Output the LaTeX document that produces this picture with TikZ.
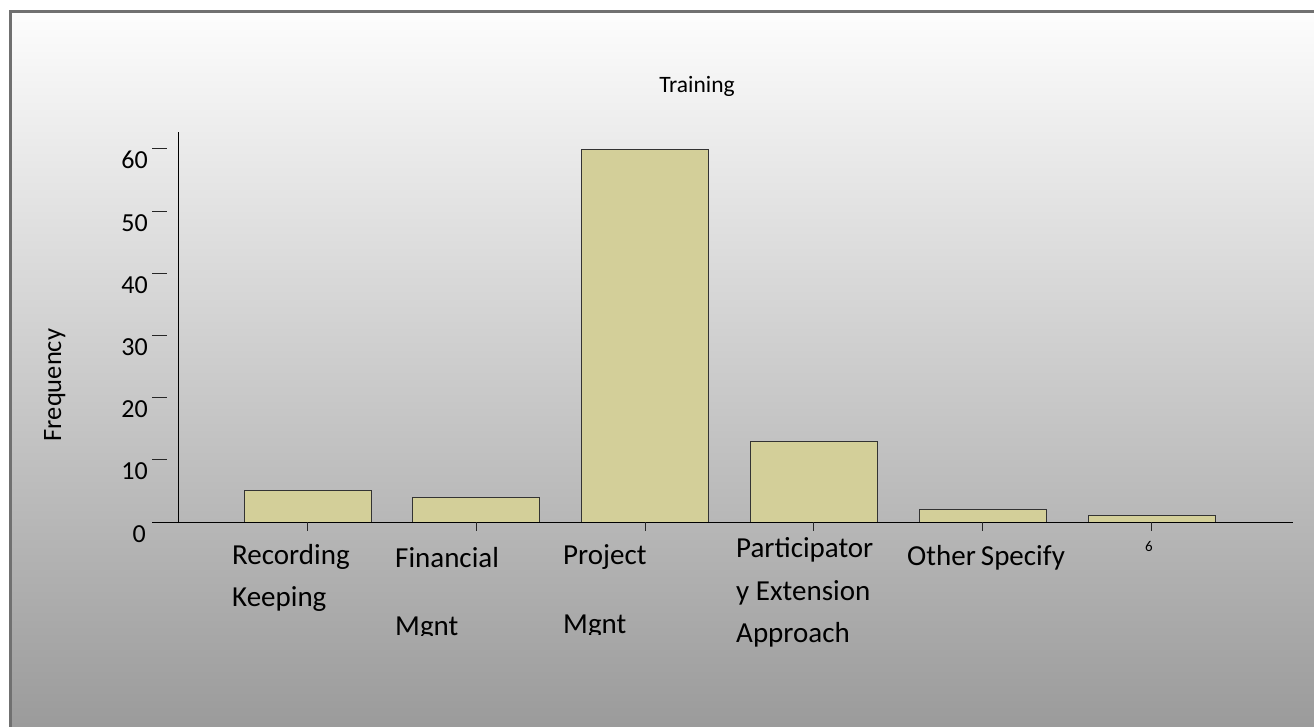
\documentclass[tikz,border=0pt]{standalone}
\usepackage{fontspec}
\setmainfont{Carlito}
\definecolor{bgtop}{HTML}{FDFDFD}
\definecolor{bgbot}{HTML}{9B9B9B}
\definecolor{framegray}{HTML}{707070}
\definecolor{barfill}{HTML}{D3CF99}
\begin{document}
\begin{tikzpicture}[x=1pt,y=-1pt,
  bar/.style={draw=black!80, fill=barfill, line width=0.9pt},
  axisline/.style={draw=black, line width=1pt},
  tickmark/.style={draw=black!85, line width=1pt},
  ticklab/.style={inner sep=0pt, anchor=base east, font=\fontsize{26}{30}\selectfont},
  catlab/.style={inner sep=0pt, anchor=base west, font=\fontsize{29}{34}\selectfont}]
\useasboundingbox (0,0) rectangle (1314,726);
\fill[white] (0,0) rectangle (1314,726);
\shade[top color=bgtop, bottom color=bgbot] (10,11) rectangle (1314,726);
\draw[framegray, line width=3pt] (10,740) -- (10,11) -- (1330,11);

% title
\node[inner sep=0pt, anchor=base, font=\fontsize{23.5}{28}\selectfont] (title) at (697,92) {Training};

% y axis label
\node[inner sep=0pt, anchor=base, rotate=90, font=\fontsize{26.5}{30}\selectfont] (ylab) at (61,385) {Frequency};

% bars
\foreach \c/\v in {307.5/5, 476.3/4, 645.1/60, 813.9/13, 982.7/2, 1151.5/1}{
  \draw[bar] (\c-63.5,522) rectangle (\c+63.5,522-6.217*\v);
}

% axes
\coordinate (xa0) at (152,522);
\coordinate (xa1) at (1293,522);
\coordinate (ya0) at (178.5,523);
\coordinate (ya1) at (178.5,132);
\draw[axisline] (xa0) -- (xa1);
\draw[axisline] (ya0) -- (ya1);

% y ticks and labels
\foreach \v in {10,20,30,40,50,60}{
  \draw[tickmark] (152,522-6.217*\v) -- (167,522-6.217*\v);
  \node[ticklab] (yl\v) at (148,542-6.217*\v) {\v};
}
\node[ticklab] (yl0) at (146,542) {0};

% x ticks
\foreach \c in {307.5, 476.3, 645.1, 813.9, 982.7, 1151.5}{
  \draw[tickmark] (\c,522) -- (\c,531);
}

% category labels
\node[catlab] (c1a) at (232,564) {Recording};
\node[catlab] (c1b) at (232,606) {Keeping};
\node[catlab] (c2a) at (395,567) {Financial};
\begin{scope}
  \clip (380,590) rectangle (560,635);
  \node[catlab] (c2b) at (395,635) {Mgnt};
\end{scope}
\node[catlab] (c3a) at (563,564) {Project};
\begin{scope}
  \clip (550,590) rectangle (720,634);
  \node[catlab] (c3b) at (563,633) {Mgnt};
\end{scope}
\node[catlab] (c4a) at (736,557) {Participator};
\node[catlab] (c4b) at (736,600) {y Extension};
\node[catlab] (c4c) at (736,642) {Approach};
\node[catlab] (c5a) at (907,565) {Other\hspace{-1.5pt} Specify};
\node[inner sep=0pt, anchor=base, font=\fontsize{15}{18}\selectfont] (c6) at (1149,551) {6};
\end{tikzpicture}
\end{document}
